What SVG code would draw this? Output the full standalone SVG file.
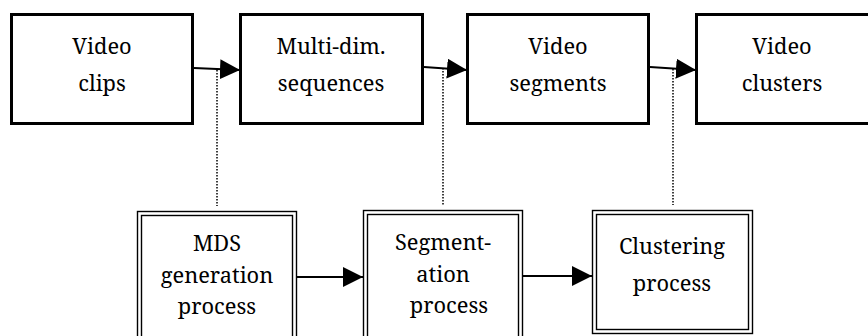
<svg xmlns="http://www.w3.org/2000/svg" width="868" height="336" viewBox="0 0 868 336">
<style>
.box{fill:#fff;stroke:#000;stroke-width:3}
.dbl{fill:none;stroke:#000;stroke-width:1.4}
.t{font-family:'Noto Serif','DejaVu Serif Condensed','DejaVu Serif',serif;font-size:21.8px;fill:#000;text-anchor:middle}
.arr{stroke:#000;stroke-width:2;fill:none;marker-end:url(#ah)}
.dot{stroke:#000;stroke-width:1.5;stroke-dasharray:1.5 1.5;fill:none}
</style>
<defs>
<marker id="ah" markerUnits="userSpaceOnUse" markerWidth="20" markerHeight="20" viewBox="0 0 20 20" refX="20" refY="10" orient="auto">
<path d="M0,0 L20,10 L0,20 Z" fill="#000"/>
</marker>
</defs>
<rect width="868" height="336" fill="#fff"/>
<g id="connectors">
<line class="dot" x1="217" y1="70" x2="217" y2="206"/>
<line class="dot" x1="443" y1="68" x2="443" y2="205"/>
<line class="dot" x1="673" y1="69" x2="673" y2="205"/>
<line class="arr" x1="194" y1="68" x2="240" y2="70"/>
<line class="arr" x1="424" y1="67" x2="467" y2="70"/>
<line class="arr" x1="650" y1="67" x2="696" y2="70"/>
<line class="arr" x1="297" y1="277" x2="363" y2="277"/>
<line class="arr" x1="523" y1="276" x2="592" y2="276"/>
</g>
<g id="video-clips">
<rect class="box" x="11.5" y="14.5" width="181" height="109"/>
<text class="t" x="102" y="54">Video</text>
<text class="t" x="102" y="91">clips</text>
</g>
<g id="multi-dim-sequences">
<rect class="box" x="240.5" y="14.5" width="182" height="109"/>
<text class="t" x="331" y="54">Multi-dim.</text>
<text class="t" x="331" y="91">sequences</text>
</g>
<g id="video-segments">
<rect class="box" x="467.5" y="14.5" width="181" height="109"/>
<text class="t" x="558" y="54">Video</text>
<text class="t" x="558" y="91">segments</text>
</g>
<g id="video-clusters">
<rect class="box" x="696.5" y="14.5" width="190" height="109"/>
<text class="t" x="782" y="54">Video</text>
<text class="t" x="782" y="91">clusters</text>
</g>
<g id="mds-generation">
<rect x="137" y="211" width="160" height="140" fill="#fff"/>
<rect class="dbl" x="137.5" y="211.5" width="159" height="140"/>
<rect class="dbl" x="141.5" y="215.5" width="151" height="140"/>
<text class="t" x="217" y="251">MDS</text>
<text class="t" x="217" y="283">generation</text>
<text class="t" x="217" y="314">process</text>
</g>
<g id="segmentation">
<rect x="363" y="210" width="160" height="140" fill="#fff"/>
<rect class="dbl" x="363.5" y="210.5" width="159" height="140"/>
<rect class="dbl" x="367.5" y="214.5" width="151" height="140"/>
<text class="t" x="443" y="250">Segment-</text>
<text class="t" x="443" y="282">ation</text>
<text class="t" x="449" y="313">process</text>
</g>
<g id="clustering">
<rect x="592" y="210" width="161" height="124" fill="#fff"/>
<rect class="dbl" x="592.5" y="210.5" width="160" height="123"/>
<rect class="dbl" x="596.5" y="214.5" width="152" height="115"/>
<text class="t" x="672" y="254">Clustering</text>
<text class="t" x="672" y="291">process</text>
</g>
</svg>
